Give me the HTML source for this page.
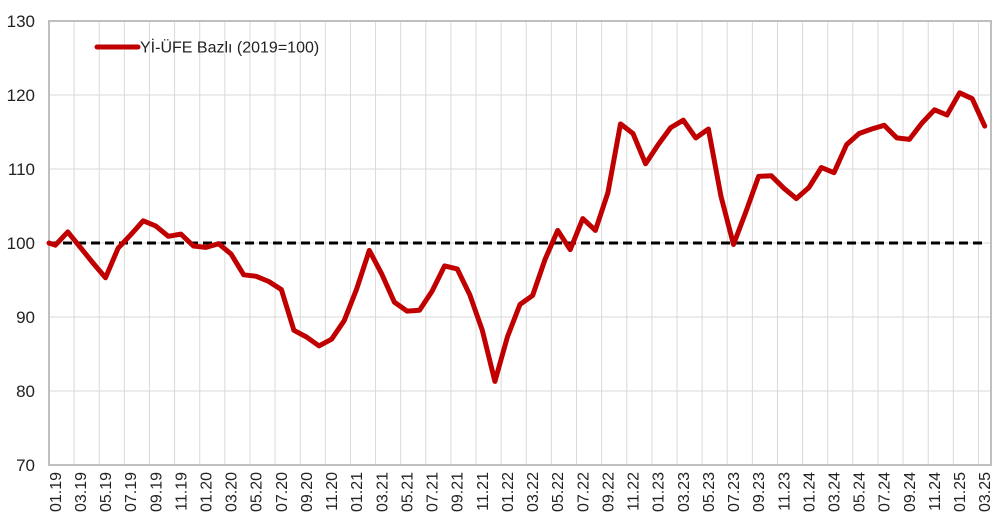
<!DOCTYPE html>
<html><head><meta charset="utf-8"><style>
html,body{margin:0;padding:0;background:#fff;}
svg{display:block;font-family:"Liberation Sans",sans-serif;}
</style></head><body>
<svg id="c" width="1000" height="531" viewBox="0 0 1000 531"></svg>
<script>
var v=[99.7,101.5,99.4,97.3,95.3,99.3,101.1,103.0,102.3,100.9,101.2,99.6,99.4,99.9,98.5,95.7,95.5,94.8,93.7,88.2,87.3,86.1,87.0,89.5,93.8,99.0,95.8,92.0,90.8,90.9,93.5,96.9,96.5,93.0,88.2,81.3,87.3,91.7,92.9,97.8,101.7,99.1,103.3,101.7,106.8,116.1,114.8,110.7,113.3,115.6,116.6,114.2,115.4,106.3,99.8,104.3,109.0,109.1,107.4,106.0,107.5,110.2,109.5,113.3,114.8,115.4,115.9,114.2,114.0,116.2,118.0,117.3,120.3,119.5,115.8];
var L=49,R=991,T=21,B=465,n=75,w=(R-L)/n;
function Y(x){return T+(130-x)*(B-T)/60;}
var s='';
for(var k=1;k<6;k++){var y=T+k*74;s+='<line x1="'+L+'" x2="'+R+'" y1="'+y+'" y2="'+y+'" stroke="#d9d9d9" stroke-width="1"/>';}
for(var k=2;k<n;k+=2){var x=L+k*w;s+='<line x1="'+x+'" x2="'+x+'" y1="'+T+'" y2="'+B+'" stroke="#d9d9d9" stroke-width="1"/>';}
s+='<rect x="'+L+'" y="'+T+'" width="'+(R-L)+'" height="'+(B-T)+'" fill="none" stroke="#bfbfbf" stroke-width="2"/>';
for(var k=0;k<7;k++){var y=T+k*74;s+='<text x="35" y="'+(y+6)+'" text-anchor="end" font-size="17" fill="#222">'+(130-k*10)+'</text>';}
var m=['01','03','05','07','09','11'];
for(var k=0;k<n;k+=2){var x=L+(k+0.5)*w;var yr=19+Math.floor(k/12);var mo=m[(k%12)/2];
s+='<text transform="translate('+(x+5.5)+',472) rotate(-90)" text-anchor="end" font-size="16" fill="#222">'+mo+'.'+yr+'</text>';}
s+='<line x1="'+L+'" x2="'+(R-4)+'" y1="'+Y(100)+'" y2="'+Y(100)+'" stroke="#000" stroke-width="3" stroke-dasharray="9,5"/>';
var p=L+','+Y(100);
for(var i=0;i<n;i++){p+=' '+(L+(i+0.5)*w).toFixed(1)+','+Y(v[i]).toFixed(1);}
s+='<polyline points="'+p+'" fill="none" stroke="#c00000" stroke-width="5" stroke-linejoin="round" stroke-linecap="round"/>';
s+='<line x1="97" x2="138" y1="47" y2="47" stroke="#c00000" stroke-width="5" stroke-linecap="round"/>';
s+='<text x="140" y="52.5" font-size="16" fill="#222">Yİ-ÜFE Bazlı (2019=100)</text>';
document.getElementById('c').innerHTML=s;
</script>
</body></html>
